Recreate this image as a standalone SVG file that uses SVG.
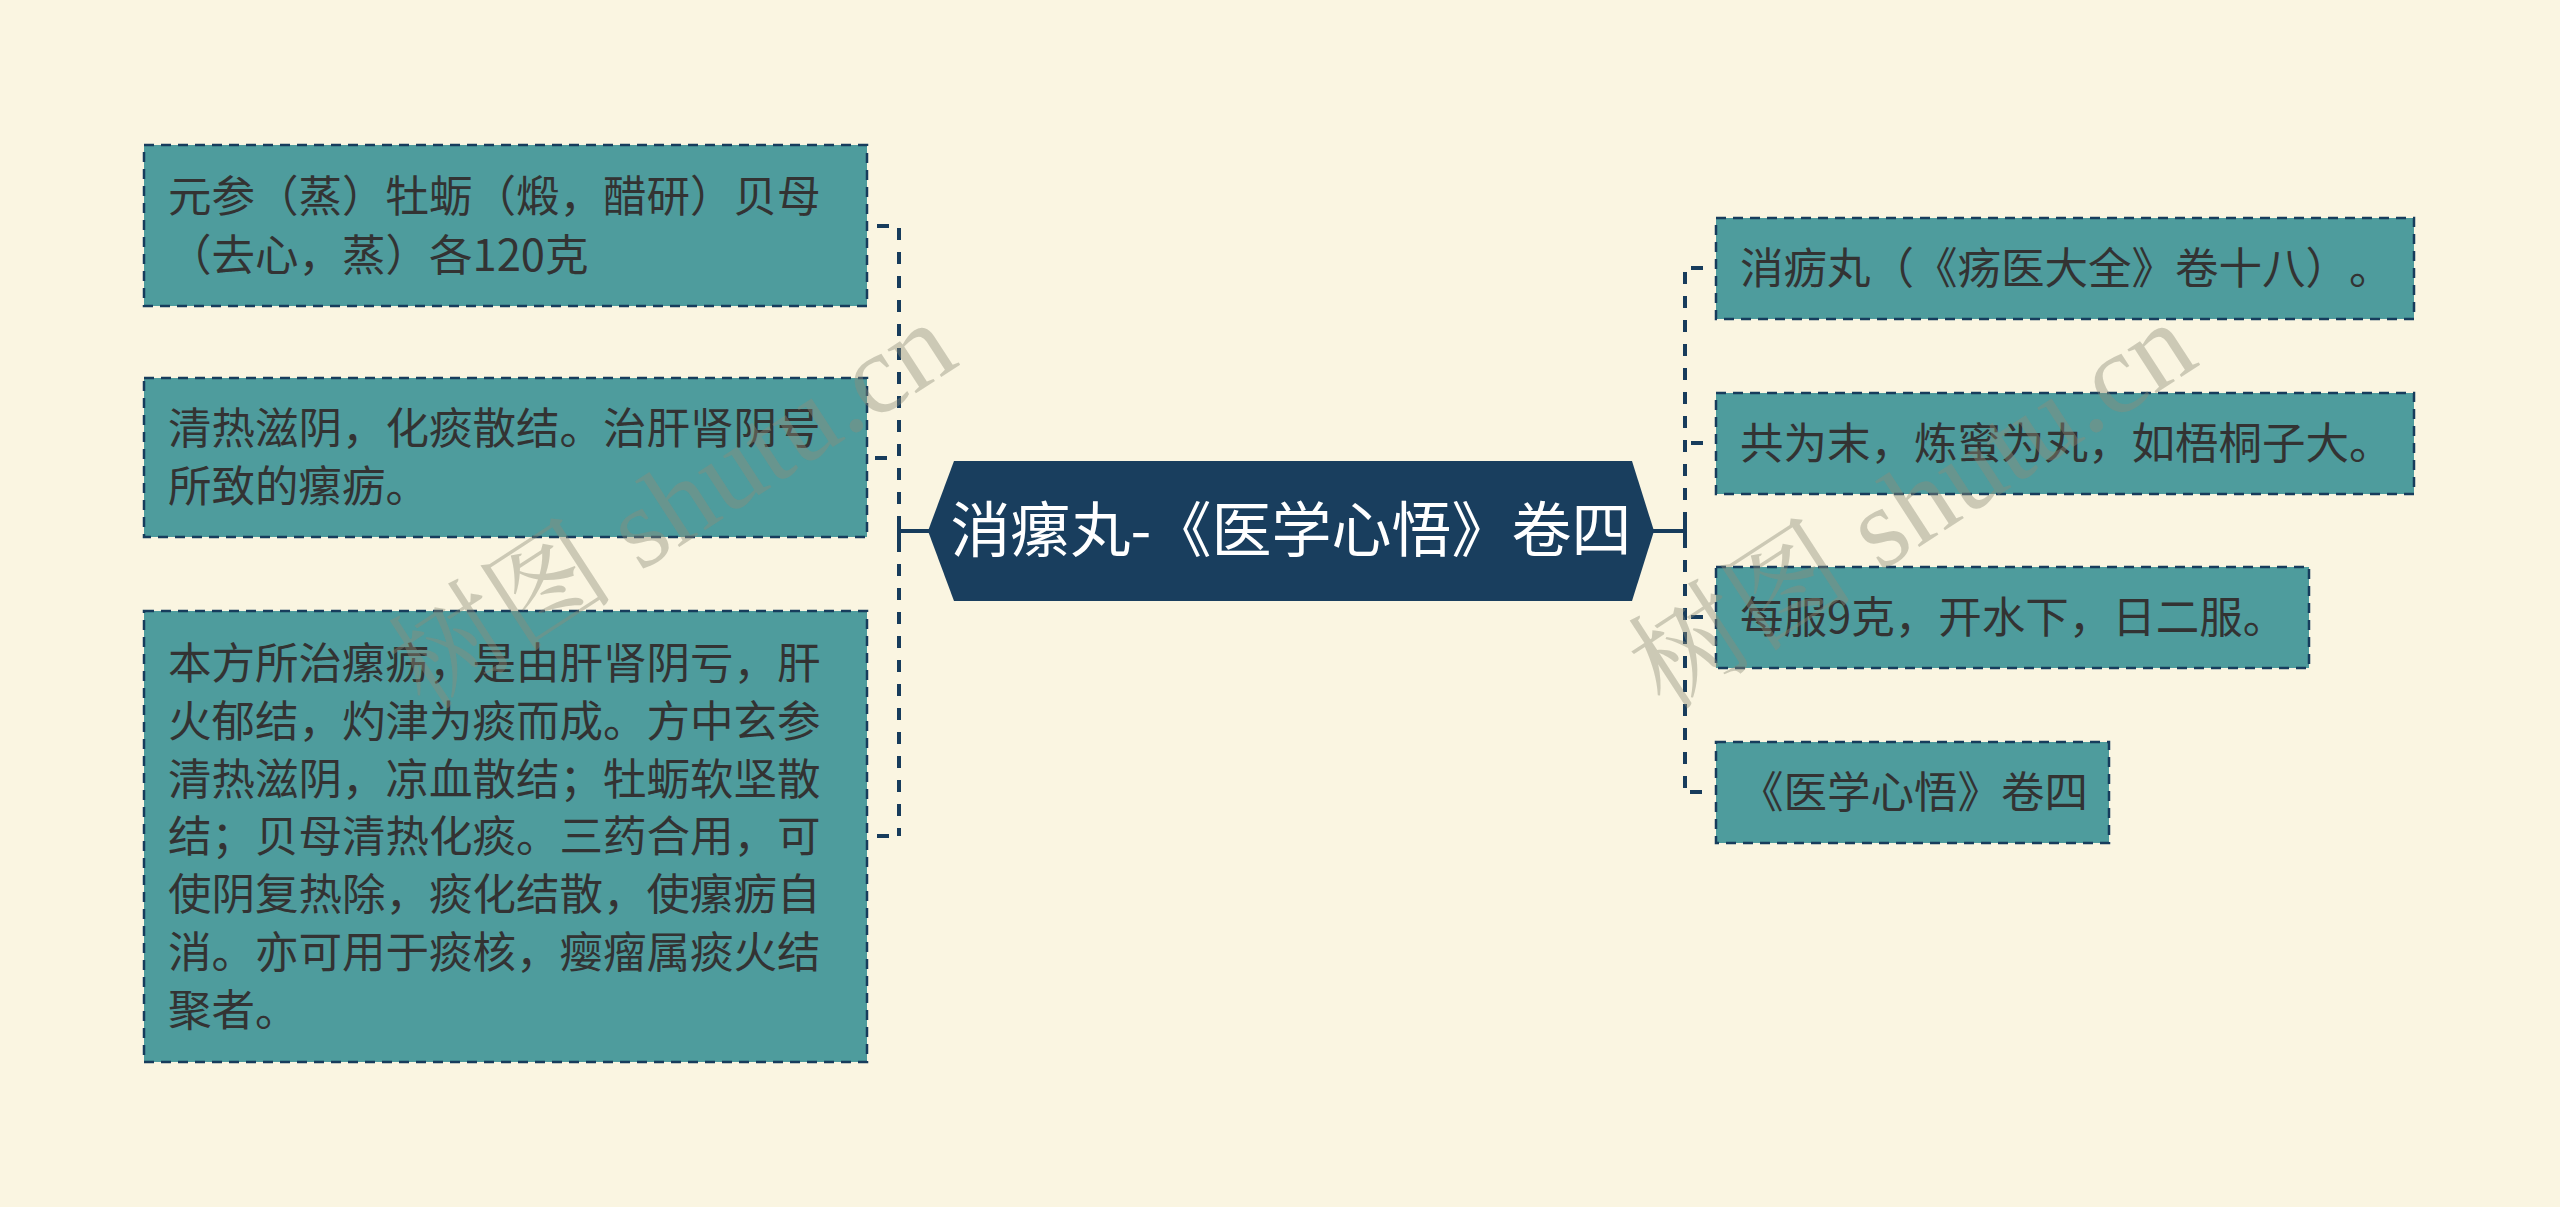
<svg xmlns="http://www.w3.org/2000/svg" width="2560" height="1207" viewBox="0 0 2560 1207">
<style>
.bg{fill:#FAF5E1}
.node rect{fill:#4E9C9D;stroke:#173C5C;stroke-width:2.5;stroke-dasharray:10 7}
.node text{font-family:"Noto Sans CJK SC","Noto Sans",sans-serif;font-size:43.5px;fill:#333333;text-spacing-trim:space-all}
.center polygon{fill:#193E5E}
.center text{font-family:"Noto Sans CJK SC","Noto Sans",sans-serif;font-size:60px;fill:#FFFFFF;text-anchor:middle;text-spacing-trim:space-all}
.conn path{fill:none;stroke:#173C5C;stroke-width:4}
.conn .d{stroke-dasharray:12 12}
.wm{font-family:"Liberation Serif","Noto Serif CJK SC","Noto Sans CJK SC",serif;font-size:114px;fill:#8C8C7A;fill-opacity:0.42}
</style>
<rect class="bg" x="0" y="0" width="2560" height="1207"/>

<g id="connectors" class="conn">
  <path class="d" d="M899,228 V836"/>
  <path d="M899,518 V544 M899,531 H930"/>
  <path d="M877,226 H889 M875,458 H887 M877,836 H889"/>
  <path class="d" d="M1685,272 V792"/>
  <path d="M1685,518 V544 M1652,531 H1685"/>
  <path d="M1691,268 H1703 M1691,443 H1703 M1691,617 H1703 M1690,792 H1702"/>
</g>

<g id="center" class="center">
  <polygon points="928,531 954,461 1632,461 1654,531 1632,601 954,601"/>
  <text x="1291" y="552">消瘰丸-《医学心悟》卷四</text>
</g>

<g id="left1" class="node">
  <rect x="144" y="145" width="723" height="161"/>
  <text x="168" y="212">元参（蒸）牡蛎（煅，醋研）贝母</text>
  <text x="168" y="271">（去心，蒸）各120克</text>
</g>

<g id="left2" class="node">
  <rect x="144" y="378" width="723" height="159"/>
  <text x="168" y="444">清热滋阴，化痰散结。治肝肾阴号</text>
  <text x="168" y="502">所致的瘰疬。</text>
</g>

<g id="left3" class="node">
  <rect x="144" y="611" width="723" height="451"/>
  <text x="168" y="679">本方所治瘰疬，是由肝肾阴亏，肝</text>
  <text x="168" y="737">火郁结，灼津为痰而成。方中玄参</text>
  <text x="168" y="795">清热滋阴，凉血散结；牡蛎软坚散</text>
  <text x="168" y="852">结；贝母清热化痰。三药合用，可</text>
  <text x="168" y="910">使阴复热除，痰化结散，使瘰疬自</text>
  <text x="168" y="968">消。亦可用于痰核，瘿瘤属痰火结</text>
  <text x="168" y="1026">聚者。</text>
</g>

<g id="right1" class="node">
  <rect x="1716" y="218" width="698" height="101"/>
  <text x="1740" y="284">消疬丸（《疡医大全》卷十八）。</text>
</g>

<g id="right2" class="node">
  <rect x="1716" y="393" width="698" height="101"/>
  <text x="1740" y="459">共为末，炼蜜为丸，如梧桐子大。</text>
</g>

<g id="right3" class="node">
  <rect x="1716" y="567" width="593" height="101"/>
  <text x="1740" y="633">每服9克，开水下，日二服。</text>
</g>

<g id="right4" class="node">
  <rect x="1716" y="742" width="393" height="101"/>
  <text x="1740" y="808">《医学心悟》卷四</text>
</g>

<g id="watermarks">
  <text class="wm" transform="translate(425,712) rotate(-33)">树图 shutu.cn</text>
  <text class="wm" transform="translate(1665,712) rotate(-33)">树图 shutu.cn</text>
</g>
</svg>
